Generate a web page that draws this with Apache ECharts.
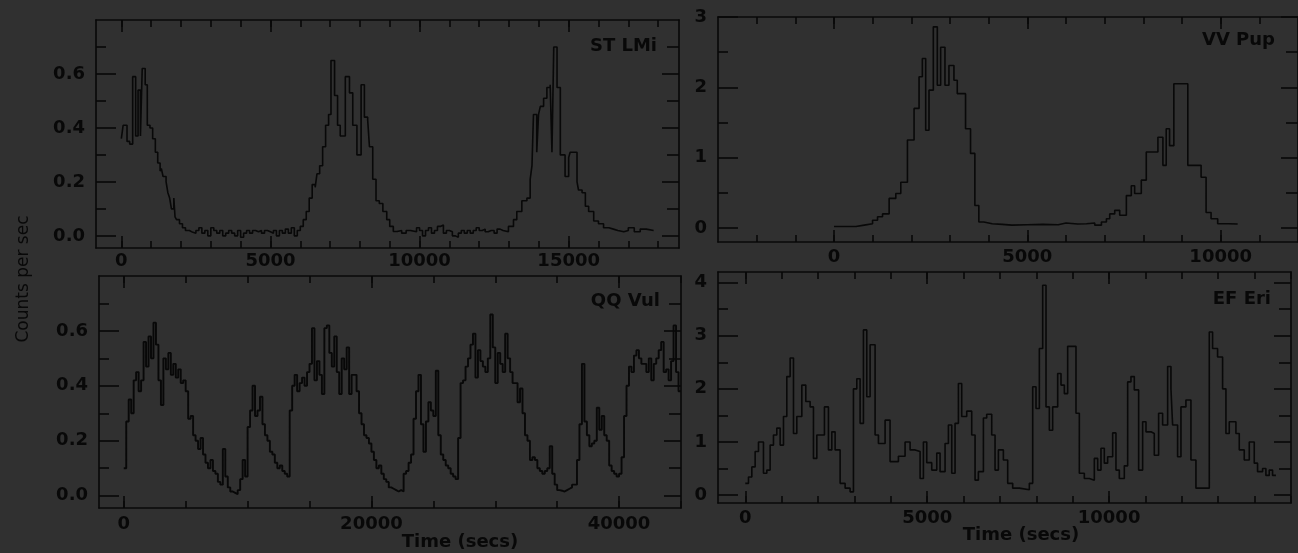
<!DOCTYPE html>
<html><head><meta charset="utf-8">
<script src="https://cdn.jsdelivr.net/npm/echarts@6/dist/echarts.min.js"></script>
<style>html,body{margin:0;padding:0;background:#303030;overflow:hidden}#chart{width:1298px;height:553px}</style>
</head><body><div id="chart"></div>
<script>
// ---------- DATA ----------
// ST LMi: bin edges (s) and counts per sec
const stLmiEdges = [0,60,190,280,380,480,560,640,700,800,870,960,1050,1140,1220,1300,1340,1400,1500,1560,1620,1680,1760,1800,1850,1950,2050,2150,2280,2400,2500,2600,2700,2800,2900,3000,3100,3200,3300,3400,3500,3600,3700,3800,3900,4000,4100,4200,4300,4400,4500,4600,4700,4800,4900,5000,5100,5200,5300,5400,5500,5600,5700,5800,5900,6000,6100,6200,6300,6400,6500,6560,6650,6750,6850,6950,7030,7150,7250,7340,7510,7650,7760,7900,8040,8150,8260,8320,8430,8540,8650,8770,8900,9000,9120,9250,9400,9550,9700,9900,10000,10100,10200,10300,10400,10500,10600,10700,10800,10900,11000,11100,11200,11300,11400,11500,11600,11700,11800,11900,12000,12100,12200,12300,12400,12500,12600,12700,12800,12980,13150,13260,13430,13600,13710,13770,13820,13930,13990,14050,14160,14270,14380,14440,14500,14610,14720,14880,15000,15050,15280,15330,15450,15560,15670,15840,16000,16170,16350,16500,16650,16850,17000,17200,17400,17600,17850];
const stLmiCounts = [0.36,0.41,0.35,0.34,0.59,0.37,0.54,0.37,0.62,0.56,0.41,0.40,0.36,0.31,0.27,0.24,0.25,0.22,0.20,0.16,0.14,0.10,0.14,0.07,0.06,0.045,0.03,0.02,0.013,0.01,0.02,0.03,0.01,0.02,0.0,0.03,0.02,0.01,0.02,0.0,0.01,0.02,0.01,0.0,0.02,-0.005,0.01,0.02,0.01,0.02,0.015,0.02,0.01,0.02,0.015,0.01,0.02,0.0,0.02,0.01,0.025,0.01,0.03,0.0,0.02,0.035,0.06,0.09,0.14,0.19,0.18,0.23,0.26,0.33,0.41,0.45,0.65,0.52,0.41,0.37,0.59,0.53,0.41,0.30,0.56,0.44,0.43,0.33,0.21,0.13,0.12,0.09,0.06,0.035,0.016,0.02,0.01,0.02,0.015,0.03,0.02,0.0,0.02,0.03,0.01,0.02,0.035,0.04,0.01,0.02,0.015,0.0,-0.005,0.01,0.02,0.01,0.02,0.01,0.02,0.03,0.02,0.025,0.015,0.02,0.02,0.01,0.025,0.02,0.015,0.035,0.06,0.09,0.13,0.14,0.21,0.26,0.45,0.31,0.45,0.48,0.51,0.55,0.56,0.31,0.70,0.55,0.30,0.22,0.29,0.31,0.20,0.17,0.16,0.11,0.09,0.055,0.045,0.03,0.025,0.02,0.015,0.02,0.03,0.015,0.025,0.02];

// VV Pup
const vvPupEdges = [0,567,782,997,1126,1255,1426,1598,1727,1899,2071,2200,2285,2371,2457,2569,2672,2758,2870,2973,3102,3188,3402,3531,3643,3746,3875,4090,4350,4600,5000,5400,5800,6000,6300,6530,6744,6916,7045,7131,7260,7389,7561,7689,7775,7947,8076,8377,8506,8592,8678,8789,9150,9494,9623,9752,9923,10200,10439];
const vvPupCounts = [0.02,0.04,0.06,0.11,0.16,0.20,0.42,0.49,0.65,1.25,1.70,2.15,2.41,1.39,1.96,2.86,2.03,2.57,2.03,2.31,2.10,1.91,1.41,1.06,0.32,0.085,0.06,0.05,0.04,0.045,0.05,0.045,0.07,0.055,0.06,0.07,0.04,0.085,0.13,0.20,0.25,0.18,0.46,0.60,0.49,0.68,1.08,1.29,0.89,1.41,1.17,2.05,0.89,0.72,0.22,0.13,0.06,0.055];

// QQ Vul: 200 s bins starting at 0 s
const qqVulBinStart = 0;
const qqVulBinWidth = 200;
const qqVulCounts = [
0.10,0.27,0.35,0.30,0.42,0.45,0.38,0.42,0.56,0.47,
0.58,0.50,0.63,0.55,0.42,0.33,0.50,0.46,0.52,0.44,
0.48,0.43,0.46,0.41,0.42,0.38,0.28,0.29,0.22,0.20,
0.17,0.21,0.15,0.12,0.10,0.13,0.09,0.08,0.05,0.04,
0.17,0.07,0.03,0.015,0.01,0.005,0.02,0.06,0.13,0.07,
0.25,0.31,0.40,0.29,0.31,0.36,0.26,0.22,0.20,0.16,
0.15,0.12,0.10,0.11,0.09,0.08,0.07,0.31,0.40,0.44,
0.38,0.41,0.43,0.40,0.45,0.48,0.61,0.42,0.49,0.44,
0.37,0.61,0.62,0.52,0.47,0.58,0.45,0.37,0.50,0.46,
0.54,0.37,0.44,0.44,0.38,0.30,0.26,0.22,0.21,0.19,
0.16,0.13,0.10,0.11,0.08,0.06,0.05,0.03,0.025,0.02,
0.015,0.02,0.015,0.08,0.09,0.12,0.15,0.28,0.38,0.44,
0.26,0.16,0.27,0.34,0.31,0.29,0.455,0.22,0.15,0.13,
0.11,0.10,0.08,0.07,0.06,0.21,0.41,0.42,0.47,0.50,
0.55,0.59,0.43,0.53,0.49,0.47,0.45,0.50,0.66,0.54,
0.41,0.52,0.48,0.45,0.59,0.50,0.45,0.41,0.41,0.34,
0.39,0.30,0.22,0.20,0.13,0.14,0.13,0.10,0.09,0.08,
0.09,0.10,0.18,0.08,0.04,0.02,0.018,0.015,0.02,0.025,
0.03,0.04,0.04,0.13,0.26,0.48,0.27,0.22,0.18,0.19,
0.20,0.32,0.24,0.29,0.22,0.20,0.11,0.09,0.08,0.07,
0.08,0.14,0.29,0.40,0.47,0.45,0.51,0.53,0.50,0.48,
0.48,0.45,0.50,0.42,0.48,0.50,0.53,0.56,0.45,0.46,
0.42,0.49,0.62,0.45,0.38];

// EF Eri
const efEriEdges = [0,88,180,271,363,500,592,683,775,867,958,1050,1141,1233,1325,1416,1554,1663,1782,1874,1966,2176,2286,2378,2469,2607,2744,2881,2973,3065,3156,3248,3339,3431,3568,3660,3843,3980,4209,4392,4530,4667,4805,4896,4988,5125,5263,5354,5491,5583,5675,5766,5858,5949,6087,6224,6316,6407,6545,6636,6774,6865,6957,7094,7213,7350,7533,7808,7900,7991,8083,8175,8266,8358,8449,8587,8678,8770,8861,9090,9182,9319,9457,9594,9686,9777,9869,9960,10098,10189,10281,10418,10510,10601,10693,10812,10922,11014,11151,11242,11361,11471,11609,11700,11746,11883,11975,12112,12250,12387,12754,12845,12982,13120,13212,13303,13486,13578,13715,13853,13990,14081,14219,14310,14402,14493,14585];
const efEriCounts = [0.22,0.34,0.53,0.82,1.0,0.41,0.47,0.94,1.13,1.26,0.94,1.48,2.23,2.58,1.16,1.48,2.07,1.76,1.66,0.69,1.13,1.66,0.85,1.19,0.85,0.22,0.13,0.06,2.0,2.19,1.35,3.11,1.85,2.83,1.13,0.97,1.41,0.63,0.73,1.0,0.85,0.82,0.31,1.0,0.61,0.47,0.79,0.44,0.97,1.32,0.41,1.35,2.1,1.48,1.58,1.13,0.28,0.44,1.45,1.52,1.13,0.47,0.85,0.66,0.22,0.13,0.10,0.22,2.04,1.63,2.76,3.95,1.66,1.22,1.66,2.29,2.07,1.91,2.80,1.54,0.41,0.31,0.28,0.69,0.47,0.88,0.60,0.72,1.17,0.47,0.31,0.55,2.13,2.23,1.98,0.47,1.38,1.19,1.16,0.75,1.54,1.32,2.42,2.0,1.32,0.72,1.66,1.79,0.66,0.13,3.07,2.76,2.6,2.0,1.16,1.38,1.16,0.85,0.66,1.0,0.60,0.44,0.50,0.37,0.47,0.37];

// Tick values
const stLmiXTicks = [0,5000,10000,15000];
const stLmiYTicks = [0,0.2,0.4,0.6];
const vvPupXTicks = [0,5000,10000];
const vvPupYTicks = [0,1,2,3];
const qqVulXTicks = [0,20000,40000];
const qqVulYTicks = [0,0.2,0.4,0.6];
const efEriXTicks = [0,5000,10000];
const efEriYTicks = [0,1,2,3,4];

const panelNames = ['ST LMi','VV Pup','QQ Vul','EF Eri'];
const xAxisTitle = 'Time (secs)';
const yAxisTitle = 'Counts per sec';

// ---------- BUILD ----------
function range(a, b, s) { const r = []; for (let v = a; v <= b + 1e-9; v += s) r.push(+v.toFixed(6)); return r; }
function edgesToSteps(edges, counts) {
  const d = counts.map((c, i) => [edges[i], c]);
  d.push([edges[edges.length - 1], counts[counts.length - 1]]);
  return d;
}
const qqVulEdges = range(qqVulBinStart, qqVulBinStart + qqVulBinWidth * qqVulCounts.length, qqVulBinWidth);

const INK = '#080808';
const FONT = '"DejaVu Sans", sans-serif';

const panels = [
  { name: panelNames[0], data: edgesToSteps(stLmiEdges, stLmiCounts),
    grid: {left: 96, top: 20, width: 583, height: 228},
    xMin: -850, xMax: 18700, yMin: -0.045, yMax: 0.8,
    xMajor: stLmiXTicks, xMinor: range(0, 18000, 1000), yMajor: stLmiYTicks, yMinor: [0.1,0.3,0.5,0.7],
    yDigits: 1, xMargin: 4, title: [657, 46], lw: 1.6 },
  { name: panelNames[1], data: edgesToSteps(vvPupEdges, vvPupCounts),
    grid: {left: 718, top: 17, width: 582, height: 225},
    xMin: -3000, xMax: 12000, yMin: -0.2, yMax: 3.0,
    xMajor: vvPupXTicks, xMinor: range(-2000, 11000, 1000), yMajor: vvPupYTicks, yMinor: [0.5,1.5,2.5],
    yDigits: 0, xMargin: 6, title: [1275, 40], lw: 1.6 },
  { name: panelNames[2], data: edgesToSteps(qqVulEdges, qqVulCounts),
    grid: {left: 99, top: 276, width: 582, height: 232},
    xMin: -2000, xMax: 45000, yMin: -0.045, yMax: 0.8,
    xMajor: qqVulXTicks, xMinor: range(0, 45000, 5000), yMajor: qqVulYTicks, yMinor: [0.1,0.3,0.5,0.7],
    yDigits: 1, xMargin: 7, title: [660, 301], lw: 1.9 },
  { name: panelNames[3], data: edgesToSteps(efEriEdges, efEriCounts),
    grid: {left: 718, top: 272, width: 573, height: 231},
    xMin: -750, xMax: 15000, yMin: -0.15, yMax: 4.2,
    xMajor: efEriXTicks, xMinor: range(0, 15000, 1000), yMajor: efEriYTicks, yMinor: [0.5,1.5,2.5,3.5],
    yDigits: 0, xMargin: 6, title: [1271, 299], lw: 1.6 }
];

const grids = [], xAxes = [], yAxes = [], series = [], graphics = [];
const lineS = {color: INK, width: 1.6};
panels.forEach((p, i) => {
  grids.push(Object.assign({show: false, containLabel: false}, p.grid));
  const xBase = {type: 'value', gridIndex: i, min: p.xMin, max: p.xMax, splitLine: {show: false}};
  const yBase = {type: 'value', gridIndex: i, min: p.yMin, max: p.yMax, splitLine: {show: false}};
  const lab = {color: INK, fontFamily: FONT, fontSize: 18, fontWeight: 'bold'};
  [['bottom', true], ['bottom', false], ['top', true], ['top', false]].forEach(([pos, major]) => {
    xAxes.push(Object.assign({}, xBase, {
      position: pos,
      axisLine: {show: major, onZero: false, lineStyle: lineS},
      axisTick: {show: true, inside: true, length: major ? 12 : 7, customValues: major ? p.xMajor : p.xMinor, lineStyle: lineS},
      axisLabel: Object.assign({show: pos === 'bottom' && major, customValues: p.xMajor, margin: p.xMargin, formatter: v => String(v)}, lab)
    }));
  });
  [['left', true], ['left', false], ['right', true], ['right', false]].forEach(([pos, major]) => {
    yAxes.push(Object.assign({}, yBase, {
      position: pos,
      axisLine: {show: major, onZero: false, lineStyle: lineS},
      axisTick: {show: true, inside: true, length: major ? (pos === 'left' ? 20 : 17) : (pos === 'left' ? 10 : 12), customValues: major ? p.yMajor : p.yMinor, lineStyle: lineS},
      axisLabel: Object.assign({show: pos === 'left' && major, customValues: p.yMajor, margin: 11, formatter: v => v.toFixed(p.yDigits)}, lab)
    }));
  });
  series.push({
    type: 'line', step: 'end', name: p.name, data: p.data,
    xAxisIndex: i * 4, yAxisIndex: i * 4, symbol: 'none', silent: true, clip: true,
    lineStyle: {color: INK, width: p.lw}
  });
  graphics.push({type: 'text', x: p.title[0], y: p.title[1], silent: true,
    style: {text: p.name, align: 'right', verticalAlign: 'middle', font: 'bold 18px ' + FONT, fill: INK}});
});
graphics.push({type: 'text', x: 460, y: 542, silent: true,
  style: {text: xAxisTitle, align: 'center', verticalAlign: 'middle', font: 'bold 18px ' + FONT, fill: INK}});
graphics.push({type: 'text', x: 1021, y: 535, silent: true,
  style: {text: xAxisTitle, align: 'center', verticalAlign: 'middle', font: 'bold 18px ' + FONT, fill: INK}});
graphics.push({type: 'text', x: 24, y: 279, rotation: Math.PI / 2, silent: true,
  style: {text: yAxisTitle, align: 'center', verticalAlign: 'middle', font: '17px ' + FONT, fill: INK}});

const chart = echarts.init(document.getElementById('chart'), null, {renderer: 'canvas'});
chart.setOption({
  backgroundColor: '#303030',
  animation: false,
  grid: grids, xAxis: xAxes, yAxis: yAxes, series: series, graphic: graphics
});
</script>
</body></html>
